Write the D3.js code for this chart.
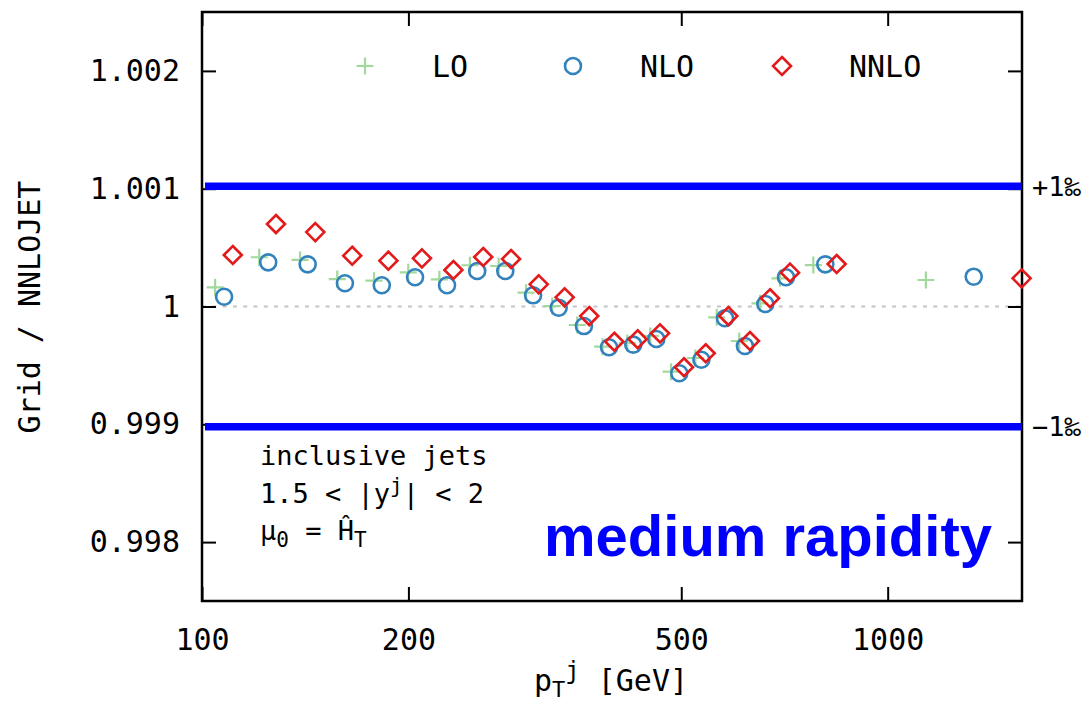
<!DOCTYPE html>
<html>
<head>
<meta charset="utf-8">
<script src="https://cdn.jsdelivr.net/npm/d3@7"></script>
<style>
  body { margin: 0; background: #fff; }
  text { font-family: "DejaVu Sans Mono", monospace; }
</style>
</head>
<body>
<svg id="chart" width="1084" height="706"></svg>
<script>
// data (pT in GeV, ratio Grid / NNLOJET)
const xLO = [104.5, 121.2, 139.0, 157.5, 178.2, 199.9, 221.9, 245.9, 270.8, 296.9, 324.2, 352.6,
  383.9, 417.1, 450.6, 483.1, 524.2, 563.2, 607.5, 651.4, 696.5, 779.0, 1137];
const yLO = [1.000163, 1.000418, 1.000395, 1.000233, 1.000219, 1.000290, 1.000231, 1.000350,
  1.000344, 1.000117, 1.000004, 0.999843, 0.999659, 0.999690, 0.999750, 0.999447, 0.999563,
  0.999908, 0.999707, 1.000027, 1.000239, 1.000352, 1.000225];

const xNLO = [107.7, 124.9, 142.6, 161.6, 182.9, 204.5, 227.7, 252.0, 276.9, 304.0, 331.3, 360.6,
  392.3, 425.6, 459.8, 496.7, 534.9, 579.1, 619.2, 663.1, 710.7, 811.0, 1335];
const yNLO = [1.000083, 1.000375, 1.000358, 1.000197, 1.000180, 1.000248, 1.000180, 1.000301,
  1.000301, 1.000095, 0.999990, 0.999834, 0.999654, 0.999676, 0.999724, 0.999433, 0.999548,
  0.999900, 0.999665, 1.000021, 1.000248, 1.000358, 1.000253];

const xNNLO = [110.9, 128.2, 146.3, 165.6, 187.0, 209.3, 232.6, 257.1, 282.3, 309.8, 338.0, 367.1,
  399.4, 431.9, 465.6, 504.6, 542.8, 585.6, 629.7, 673.6, 720.4, 842.6, 1568];
const yNNLO = [1.000437, 1.000700, 1.000632, 1.000431, 1.000389, 1.000409, 1.000310, 1.000420,
  1.000403, 1.000188, 1.000078, 0.999919, 0.999701, 0.999722, 0.999772, 0.999484, 0.999603,
  0.999919, 0.999707, 1.000070, 1.000287, 1.000361, 1.000239];

const xTicks = [100, 200, 500, 1000];
const yTicks = [0.998, 0.999, 1, 1.001, 1.002];
const bandLevels = [1.00102, 0.99898];
const bandLabels = ['+1‰', '−1‰'];

const margin = { left: 202, top: 12, right: 62, bottom: 105 };
const W = 1084, H = 706;
const svg = d3.select('#chart');

const x = d3.scaleLog().domain([100, 1570]).range([margin.left, W - margin.right]);
const y = d3.scaleLinear().domain([0.9975, 1.0025]).range([H - margin.bottom, margin.top]);

const colLO = '#a1d99b', colNLO = '#3182bd', colNNLO = '#e31a1c';

// reference line at 1
svg.append('line')
  .attr('x1', x.range()[0]).attr('x2', x.range()[1])
  .attr('y1', y(1)).attr('y2', y(1))
  .attr('stroke', '#c4c4c4').attr('stroke-width', 2)
  .attr('stroke-dasharray', '4 6.3');

// axes with inward ticks
const fmtY = (v) => (Math.abs(v - 1) < 1e-9 ? '1' : v.toFixed(3));
const tick = 14;

svg.append('g')
  .attr('transform', 'translate(0,' + y.range()[0] + ')')
  .call(d3.axisBottom(x).tickValues(xTicks).tickFormat(d3.format('d'))
    .tickSizeInner(-tick).tickSizeOuter(0).tickPadding(28));
svg.append('g')
  .attr('transform', 'translate(0,' + y.range()[1] + ')')
  .call(d3.axisTop(x).tickValues(xTicks).tickFormat('').tickSizeInner(-tick).tickSizeOuter(0));
svg.append('g')
  .attr('transform', 'translate(' + x.range()[0] + ',0)')
  .call(d3.axisLeft(y).tickValues(yTicks).tickFormat(fmtY)
    .tickSizeInner(-tick).tickSizeOuter(0).tickPadding(22));
svg.append('g')
  .attr('transform', 'translate(' + x.range()[1] + ',0)')
  .call(d3.axisRight(y).tickValues(yTicks).tickFormat('').tickSizeInner(-tick).tickSizeOuter(0));

svg.selectAll('.domain').remove();
svg.selectAll('.tick line').attr('stroke', '#000').attr('stroke-width', 2);
svg.selectAll('.tick text')
  .style('font-family', '"DejaVu Sans Mono", monospace')
  .style('font-size', '30px').style('fill', '#000');

// frame
svg.append('rect')
  .attr('x', x.range()[0]).attr('y', y.range()[1])
  .attr('width', x.range()[1] - x.range()[0])
  .attr('height', y.range()[0] - y.range()[1])
  .attr('fill', 'none').attr('stroke', '#000').attr('stroke-width', 2.5);

// +-1 permille bands
svg.selectAll('.band')
  .data(bandLevels)
  .enter()
  .append('line')
  .attr('x1', x.range()[0] + 3).attr('x2', x.range()[1])
  .attr('y1', (d) => y(d)).attr('y2', (d) => y(d))
  .attr('stroke', '#0000ff').attr('stroke-width', 7.5);

svg.selectAll('.bandlabel')
  .data(bandLevels)
  .enter()
  .append('text')
  .attr('x', x.range()[1] + 10)
  .attr('y', (d) => y(d))
  .attr('dy', '0.36em')
  .style('font-size', '27px').style('fill', '#000')
  .text((d, i) => bandLabels[i]);

// markers
const plusPath = 'M-8.5,0H8.5M0,-8.5V8.5';
const diamondPath = 'M0,-9L9,0L0,9L-9,0Z';

svg.append('g').selectAll('path')
  .data(xLO.map((d, i) => [d, yLO[i]]))
  .enter()
  .append('path')
  .attr('d', plusPath)
  .attr('transform', (d) => 'translate(' + x(d[0]) + ',' + y(d[1]) + ')')
  .attr('fill', 'none').attr('stroke', colLO).attr('stroke-width', 2.2);

svg.append('g').selectAll('circle')
  .data(xNLO.map((d, i) => [d, yNLO[i]]))
  .enter()
  .append('circle')
  .attr('cx', (d) => x(d[0])).attr('cy', (d) => y(d[1]))
  .attr('r', 8)
  .attr('fill', 'none').attr('stroke', colNLO).attr('stroke-width', 2.6);

svg.append('g').selectAll('path')
  .data(xNNLO.map((d, i) => [d, yNNLO[i]]))
  .enter()
  .append('path')
  .attr('d', diamondPath)
  .attr('transform', (d) => 'translate(' + x(d[0]) + ',' + y(d[1]) + ')')
  .attr('fill', 'none').attr('stroke', colNNLO).attr('stroke-width', 2.6);

// legend
const legend = [
  { name: 'LO', cx: 365, draw: (g) => g.append('path').attr('d', plusPath).attr('stroke', colLO).attr('stroke-width', 2.2) },
  { name: 'NLO', cx: 573, draw: (g) => g.append('circle').attr('r', 8).attr('fill', 'none').attr('stroke', colNLO).attr('stroke-width', 2.6) },
  { name: 'NNLO', cx: 782, draw: (g) => g.append('path').attr('d', diamondPath).attr('fill', 'none').attr('stroke', colNNLO).attr('stroke-width', 2.6) },
];
legend.forEach((d) => {
  const g = svg.append('g').attr('transform', 'translate(' + d.cx + ',66)');
  d.draw(g);
  g.append('text').attr('x', 67).attr('dy', '0.36em')
    .style('font-size', '30px').style('fill', '#000').text(d.name);
});

// labels inside the plot
const info = svg.append('g').style('font-size', '27px').style('fill', '#000');
info.append('text').attr('x', 260).attr('y', 465).text('inclusive jets');
const l2 = info.append('text').attr('x', 260).attr('y', 503);
l2.append('tspan').text('1.5 < |y');
l2.append('tspan').attr('dy', -10).style('font-size', '21px').text('j');
l2.append('tspan').attr('dy', 10).text('| < 2');
const l3 = info.append('text').attr('x', 260).attr('y', 540);
l3.append('tspan').text('μ');
l3.append('tspan').attr('dy', 7).style('font-size', '21px').text('0');
l3.append('tspan').attr('dy', -7).text(' = Ĥ');
l3.append('tspan').attr('dy', 7).style('font-size', '21px').text('T');

svg.append('text')
  .attr('x', 992).attr('y', 556)
  .attr('text-anchor', 'end')
  .style('font-family', '"Liberation Sans", Arial, sans-serif')
  .style('font-weight', 'bold').style('font-size', '58px')
  .style('fill', '#0000ff')
  .text('medium rapidity');

// axis titles
const xl = svg.append('text')
  .attr('x', 611).attr('y', 691)
  .attr('text-anchor', 'middle')
  .style('font-size', '30px').style('fill', '#000');
xl.append('tspan').text('p');
xl.append('tspan').attr('dy', 6).style('font-size', '22px').text('T');
xl.append('tspan').attr('dy', -18).style('font-size', '24px').text('j');
xl.append('tspan').attr('dy', 12).text(' [GeV]');

svg.append('text')
  .attr('transform', 'translate(40,307) rotate(-90)')
  .attr('text-anchor', 'middle')
  .style('font-size', '30px').style('fill', '#000')
  .text('Grid / NNLOJET');
</script>
</body>
</html>
